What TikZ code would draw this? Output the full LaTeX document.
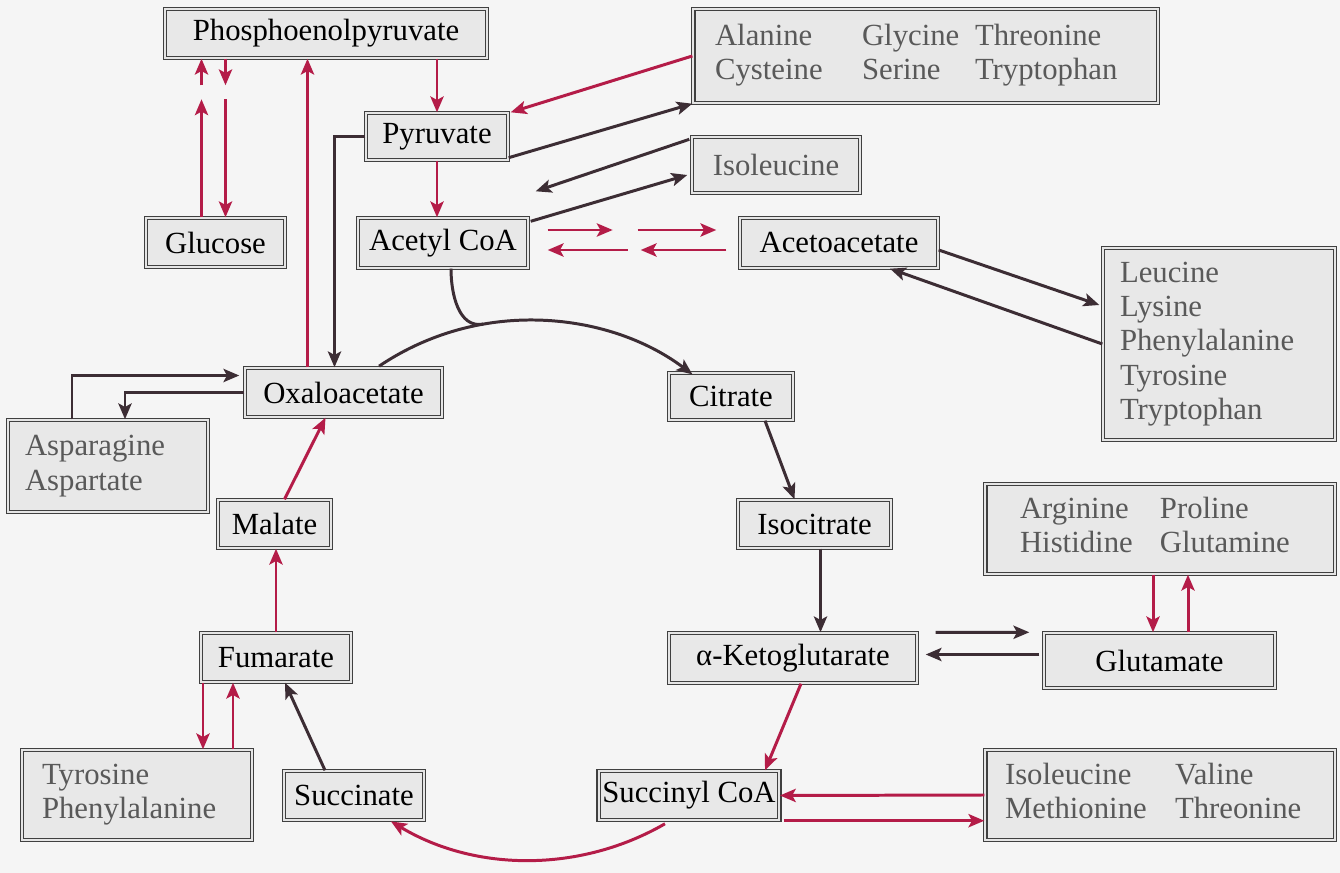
\documentclass[tikz,border=0pt]{standalone}
\usepackage{fontspec}
\setmainfont{Liberation Serif}
\usetikzlibrary{arrows.meta, calc}
\definecolor{crim}{RGB}{180,28,72}
\definecolor{dk}{RGB}{60,45,52}
\definecolor{bg}{RGB}{245,245,245}
\tikzset{
	x=0.02cm, y=0.02cm, % one unit is one pixel of the sketch
	tip/.style={-{Stealth[length=9pt, width=7.5pt, inset=2pt]}}, % bold arrow heads
	met/.style={draw=black!75, thick, double=black!10, double distance=1.2pt, fill=black!9, inner sep=2pt}, % metabolite boxes
	aabox/.style={met, text=black!65, align=left}, % boxes listing amino acids
	flow/.style={tip, color=crim, line width=1.7pt}, % red reaction arrows
	link/.style={tip, color=dk, line width=1.7pt}, % dark reaction arrows
}
\begin{document}
\begin{tikzpicture}[font=\fontsize{17.5}{19.5}\selectfont]
	\fill[bg] (0,0) rectangle (1340,873);
	\useasboundingbox (0,0) rectangle (1340,873);

	\node[met, minimum width=6.44cm, minimum height=0.98cm] (pep) at (326,839.5) {Phosphoenolpyruvate};
	\node[met, minimum width=2.84cm, minimum height=0.94cm] (pyr) at (437,736.5) {Pyruvate};
	\node[met, minimum width=2.78cm, minimum height=0.98cm] (glc) at (215.5,630.5) {Glucose};
	\node[met, minimum width=3.4cm, minimum height=1cm] (acoa) at (443,630) {Acetyl CoA};
	\node[met, minimum width=3.36cm, minimum height=1.12cm, text=black!65] (ile) at (776,708) {Isoleucine};
	\node[met, minimum width=3.96cm, minimum height=1cm] (acac) at (839,630) {Acetoacetate};
	\node[met, minimum width=3.94cm, minimum height=0.98cm] (oaa) at (343.5,480.5) {Oxaloacetate};
	\node[met, minimum width=2.48cm, minimum height=0.94cm] (cit) at (731,476.5) {Citrate};
	\node[met, minimum width=2.26cm, minimum height=0.96cm] (mal) at (274.5,349) {Malate};
	\node[met, minimum width=3.06cm, minimum height=0.96cm] (icit) at (814.5,349) {Isocitrate};
	\node[met, minimum width=3cm, minimum height=0.98cm] (fum) at (276,215.5) {Fumarate};
	\node[met, minimum width=4.96cm, minimum height=1cm] (akg) at (793,215) {α-Ketoglutarate};
	\node[met, minimum width=4.62cm, minimum height=1.1cm] (glu) at (1159.5,212.5) {Glutamate};
	\node[met, minimum width=2.8cm, minimum height=0.98cm] (suc) at (354,77.5) {Succinate};
	\node[met, minimum width=2.68cm, minimum height=0.98cm] (scoa) at (689,77.5) {Succinyl CoA};

	\node[aabox, text width=8.42cm, inner xsep=0.44cm, minimum height=1.88cm] (aatop) at (925.5,817)
		{\begin{tabular}{@{}p{2.94cm}@{}p{2.26cm}@{}l@{}}Alanine & Glycine & Threonine\\ Cysteine & Serine & Tryptophan\end{tabular}};
	\node[aabox, text width=3.96cm, inner xsep=0.34cm, minimum height=3.84cm] (ketoaa) at (1219,529)
		{Leucine\\ Lysine\\ Phenylalanine\\ Tyrosine\\ Tryptophan};
	\node[aabox, text width=3.32cm, inner xsep=0.34cm, minimum height=1.84cm] (asp) at (108,407)
		{Asparagine\\ Aspartate};
	\node[aabox, text width=5.6cm, inner xsep=0.7cm, minimum height=1.8cm] (glufam) at (1160,344)
		{\begin{tabular}{@{}p{2.8cm}@{}l@{}}Arginine & Proline\\ Histidine & Glutamine\end{tabular}};
	\node[aabox, text width=3.8cm, inner xsep=0.4cm, minimum height=1.8cm] (arom) at (137,78)
		{Tyrosine\\ Phenylalanine};
	\node[aabox, text width=6.2cm, inner xsep=0.4cm, minimum height=1.8cm] (bcaa) at (1160,78)
		{\begin{tabular}{@{}p{3.4cm}@{}l@{}}Isoleucine & Valine\\ Methionine & Threonine\end{tabular}};

	\coordinate (c) at (530,283);

	\path[flow] (pyr.north |- pep.south) edge (pyr.north)
		(pyr.south) edge (pyr.south |- acoa.north)
		($(glc.north)+(-14,0)$) edge ($(glc.north)+(-14,118)$)
		($(glc.north)+(-14,132)$) edge ($(pep.south -| glc.north)+(-14,0)$)
		($(pep.south -| glc.north)+(10,0)$) edge ($(glc.north)+(10,132)$)
		($(glc.north)+(10,118)$) edge ($(glc.north)+(10,0)$)
		($(oaa.north)+(-36,0)$) edge ($(pep.south -| oaa.north)+(-36,0)$)
		(aatop.west) edge ($(pyr.north east)+(2,0)$)
		($(acoa.east)+(19,13)$) edge ($(acoa.east)+(84,13)$)
		($(acoa.east)+(109,13)$) edge ($(acac.west)+(-23,13)$)
		($(acoa.east)+(99,-7)$) edge ($(acoa.east)+(19,-7)$)
		($(acac.west)+(-13,-7)$) edge ($(acoa.east)+(112,-7)$)
		($(mal.north)+(10,0)$) edge ($(oaa.south)+(-18,0)$)
		(fum.north) edge (fum.north |- mal.south)
		($(fum.south)+(-73,0)$) edge ($(fum.south |- arom.north)+(-73,0)$)
		($(fum.south |- arom.north)+(-43,0)$) edge ($(fum.south)+(-43,0)$)
		($(akg.south)+(8,0)$) edge ($(scoa.north)+(76,0)$)
		($(glufam.south)+(-7,0)$) edge ($(glufam.south |- glu.north)+(-7,0)$)
		($(glufam.south |- glu.north)+(28,0)$) edge ($(glufam.south)+(28,0)$)
		(bcaa.west) edge (scoa.east)
		($(scoa.south east)+(4,0)$) edge (bcaa.west |- scoa.south);

	\path[link] ($(pyr.south east)+(0,3)$) edge (aatop.south west)
		($(ile.north west)+(-2,-3)$) edge ($(acoa.north east)+(7,26)$)
		($(acoa.north east)+(2,-4)$) edge ($(ile.west)+(-4,-10)$)
		($(acac.east)+(0,-7)$) edge ($(ketoaa.west)+(-3,39)$)
		(ketoaa.west) edge ($(acac.south)+(51,0)$)
		($(cit.south)+(34,0)$) edge ($(icit.north)+(-20,0)$)
		($(icit.south)+(6,0)$) edge ($(icit.south |- akg.north)+(6,0)$)
		($(akg.north east)+(18,0)$) edge ($(glu.north west)+(-14,0)$)
		($(glu.west)+(-4,6)$) edge ($(akg.east |- glu.west)+(8,6)$)
		($(suc.north)+(-29,0)$) edge ($(fum.south)+(9,0)$);

	\draw[link] (pyr.west) -| ($(oaa.north)+(-9,0)$);
	\draw[link] (oaa.west) -| ($(asp.north)+(17,0)$);
	\draw[link] ($(asp.north)+(-36,0)$) |- ($(oaa.west)+(-5,17)$);

	\draw[link, -] ($(c)+(124:5.4cm)$) arc[start angle=124, end angle=100, radius=5.4cm];
	\draw[link] ($(acoa.south)+(8,0)$) to[out=-90, in=190] ($(c)+(100:5.4cm)$)
		arc[start angle=100, end angle=53, radius=5.4cm];
	\draw[flow] ($(c)+(-60:5.4cm)$) arc[start angle=-60, end angle=-121, radius=5.4cm];
\end{tikzpicture}
\end{document}
